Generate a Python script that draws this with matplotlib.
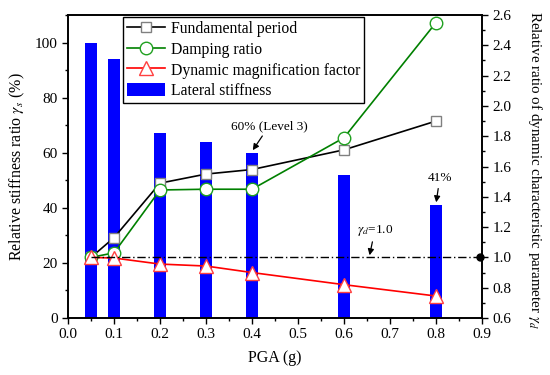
import numpy as np
import matplotlib.pyplot as plt

plt.rcParams['font.family'] = ['Liberation Serif', 'DejaVu Serif']
plt.rcParams['mathtext.fontset'] = 'stix'

# data
pga = [0.05, 0.1, 0.2, 0.3, 0.4, 0.6, 0.8]
stiffness = [100, 94, 67, 64, 60, 52, 41]            # left axis, %
period = [1.00, 1.13, 1.49, 1.55, 1.58, 1.71, 1.90]  # right axis
damping = [1.00, 1.03, 1.445, 1.45, 1.45, 1.79, 2.55]
dmf = [1.00, 0.996, 0.956, 0.943, 0.90, 0.82, 0.745]


def main():
    fig = plt.figure(figsize=(5.5, 3.75), dpi=100)
    ax = fig.add_axes([0.1236, 0.152, 0.7528, 0.808])
    ax2 = ax.twinx()

    bars = ax.bar(pga, stiffness, width=0.026, color='#0000ff', zorder=1,
                  label='Lateral stiffness')

    l1, = ax2.plot(pga, period, '-s', color='k', lw=1.2, ms=7.5,
                   mfc='white', mec='#808080', mew=1.0, label='Fundamental period')
    l2, = ax2.plot(pga, damping, '-o', color='#008000', lw=1.2, ms=9,
                   mfc='white', mec='#20a020', mew=1.0, label='Damping ratio')
    l3, = ax2.plot(pga, dmf, '-^', color='red', lw=1.2, ms=9.5,
                   mfc='white', mec='#ff4040', mew=1.0,
                   label='Dynamic magnification factor')

    # reference line gamma_d = 1.0
    ax2.plot([0.05, 0.9], [1.0, 1.0], color='k', lw=1.0, ls=(0, (6, 2, 1, 2)))
    ax2.plot([0.895], [1.0], marker='o', color='k', ms=5, clip_on=False)

    ax.set_xlim(0, 0.9)
    ax.set_ylim(0, 110)
    ax2.set_ylim(0.6, 2.6)
    ax.set_xticks(np.arange(0, 0.91, 0.1))
    ax.set_xticks(np.arange(0, 0.91, 0.05), minor=True)
    ax.set_yticks(np.arange(0, 101, 20))
    ax.set_yticks(np.arange(0, 111, 10), minor=True)
    ax2.set_yticks(np.arange(0.6, 2.61, 0.2))
    ax2.set_yticks(np.arange(0.6, 2.61, 0.1), minor=True)
    ax.set_xticklabels(['%.1f' % v for v in np.arange(0, 0.91, 0.1)])
    ax2.set_yticklabels(['%.1f' % v for v in np.arange(0.6, 2.61, 0.2)])

    for a in (ax, ax2):
        a.tick_params(which='both', direction='out', labelsize=11, width=1.0)
        a.tick_params(which='major', length=4)
        a.tick_params(which='minor', length=2.5)
        for s in a.spines.values():
            s.set_linewidth(1.2)

    ax.set_xlabel('PGA (g)', fontsize=11.5, labelpad=6)
    ax.set_ylabel(r'Relative stiffness ratio $\gamma_s$ (%)', fontsize=11.5,
                  va='center')
    ax.yaxis.set_label_coords(-0.121, 0.5)
    ax2.set_ylabel(r'Relative ratio of dynamic characteristic parameter $\gamma_d$',
                   fontsize=10.8, rotation=270, va='center')
    ax2.yaxis.set_label_coords(1.128, 0.49)

    arrow = dict(arrowstyle='-|>', color='k', lw=0.9, shrinkA=1, shrinkB=1,
                 mutation_scale=9)
    ax.annotate('60% (Level 3)', xy=(0.4, 60.5), xytext=(0.437, 67.5),
                ha='center', va='bottom', fontsize=9.5, arrowprops=arrow)
    ax.annotate('41%', xy=(0.8, 41.5), xytext=(0.808, 48.5),
                ha='center', va='bottom', fontsize=9.5, arrowprops=arrow)
    ax2.annotate(r'$\gamma_d$=1.0', xy=(0.655, 1.005), xytext=(0.667, 1.13),
                 ha='center', va='bottom', fontsize=9.5, arrowprops=arrow)

    ax2.legend([l1, l2, l3, bars],
               ['Fundamental period', 'Damping ratio',
                'Dynamic magnification factor', 'Lateral stiffness'],
               loc='upper left', bbox_to_anchor=(0.128, 1.0), fontsize=11.3,
               frameon=True, fancybox=False, edgecolor='k', framealpha=1,
               borderpad=0.25, labelspacing=0.28, handlelength=2.4,
               handleheight=0.95, handletextpad=0.4, borderaxespad=0.15)

    fig.savefig('out.png', dpi=100)


if __name__ == '__main__':
    main()
